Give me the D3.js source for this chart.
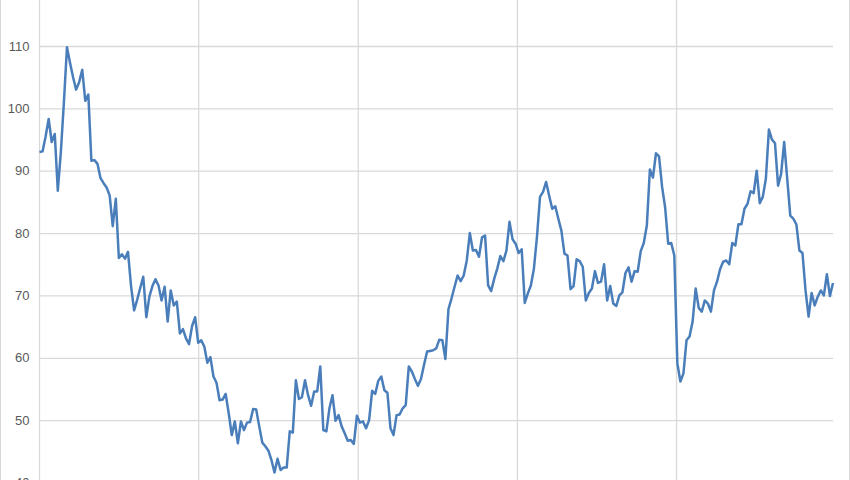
<!DOCTYPE html>
<html lang="en">
	<head>
		<meta charset="utf-8">
		<title>Weekly index</title>
		<script type="text/javascript" src="https://d3js.org/d3.v7.min.js"></script>
		<style type="text/css">
			body { margin: 0; background: #fff; }
			svg { display: block; }
		</style>
	</head>
	<body>
		<script type="text/javascript">

			//Width and height
			var w = 850;
			var h = 480;

			//Weekly observations, first week of January onwards
			var startDate = new Date(2015, 0, 2);
			var values = [
				93.0, 93.1, 95.5, 98.3, 94.6, 95.9, 86.8, 93.0, 101.0, 109.8,
				107.3, 105.0, 103.0, 104.2, 106.2, 101.2, 102.2, 91.6, 91.7, 91.1,
				88.8, 88.0, 87.3, 86.0, 81.1, 85.5, 76.0, 76.6, 75.9, 77.0,
				71.5, 67.6, 69.3, 71.2, 73.0, 66.5, 69.8, 71.5, 72.6, 71.6,
				69.2, 71.4, 65.8, 70.8, 68.4, 69.0, 63.9, 64.6, 63.1, 62.2,
				65.1, 66.5, 62.4, 62.8, 61.8, 59.2, 60.1, 57.0, 56.0, 53.2,
				53.3, 54.2, 51.1, 47.6, 49.8, 46.3, 49.8, 48.4, 49.6, 49.7,
				51.8, 51.7, 49.0, 46.4, 45.8, 45.1, 43.6, 41.6, 43.8, 42.0,
				42.4, 42.4, 48.2, 48.0, 56.4, 53.4, 53.7, 56.4, 54.0, 52.3,
				54.6, 54.6, 58.6, 48.4, 48.2, 51.9, 54.0, 49.9, 50.8, 49.0,
				47.9, 46.7, 46.8, 46.2, 50.7, 49.6, 49.8, 48.7, 50.0, 54.7,
				54.2, 56.3, 57.0, 54.8, 54.4, 48.7, 47.6, 50.8, 50.9, 51.9,
				52.4, 58.6, 57.8, 56.6, 55.5, 56.6, 58.9, 61.0, 61.1, 61.2,
				61.5, 62.9, 62.8, 59.8, 67.8, 69.5, 71.4, 73.2, 72.3, 73.2,
				75.6, 80.0, 77.2, 77.3, 76.2, 79.3, 79.6, 71.6, 70.7, 72.7,
				74.3, 76.3, 75.5, 77.2, 81.8, 79.0, 78.3, 76.8, 77.4, 68.8,
				70.3, 71.6, 74.3, 79.4, 85.8, 86.6, 88.2, 86.0, 83.9, 84.3,
				82.3, 80.4, 76.7, 76.4, 71.0, 71.5, 75.8, 75.5, 74.6, 69.2,
				70.4, 71.1, 73.9, 72.0, 72.2, 75.0, 69.2, 71.5, 68.7, 68.3,
				70.0, 70.5, 73.6, 74.5, 72.2, 73.9, 73.8, 77.1, 78.4, 81.2,
				90.2, 88.9, 92.8, 92.3, 87.4, 84.1, 78.3, 78.4, 76.4, 59.1,
				56.2, 57.5, 62.8, 63.4, 65.8, 71.1, 68.0, 67.4, 69.2, 68.7,
				67.4, 70.8, 72.2, 74.2, 75.4, 75.6, 75.0, 78.4, 78.0, 81.4,
				81.4, 83.9, 84.7, 86.7, 86.4, 90.0, 84.8, 85.8, 88.7, 96.6,
				95.0, 94.4, 87.6, 89.5, 94.6, 88.7, 82.8, 82.3, 81.4, 77.2,
				76.8, 70.8, 66.6, 70.4, 68.4, 69.8, 70.8, 70.0, 73.4, 69.9,
				72.0
			];
			var yTicks = [40, 50, 60, 70, 80, 90, 100, 110];

			var dates = values.map(function(v, i) { return d3.timeWeek.offset(startDate, i); });
			var data = values.map(function(v, i) { return { date: dates[i], value: v }; });

			//Scales
			var x = d3.scaleTime()
					  .domain([dates[0], dates[dates.length - 1]])
					  .range([39.5, 833]);

			var y = d3.scaleLinear()
					  .domain([40, 110])
					  .range([482.5, 46]);

			//Create SVG element
			var svg = d3.select("body")
						.append("svg")
						.attr("width", w)
						.attr("height", h);

			//Chart area border
			svg.append("rect")
				.attr("x", 0.5)
				.attr("y", -20)
				.attr("width", 849)
				.attr("height", h + 40)
				.style("fill", "none")
				.style("stroke", "#d9d9d9")
				.style("stroke-width", 1);

			//Horizontal gridlines
			svg.append("g")
				.attr("transform", "translate(39.5,0)")
				.call(d3.axisLeft(y).tickValues(yTicks).tickSize(-(833 - 39.5)).tickFormat(""))
				.call(function(g) {
					g.select(".domain").remove();
					g.selectAll("line").style("stroke", "#d9d9d9").style("stroke-width", 1.3);
				});

			//Vertical gridlines at year starts
			svg.append("g")
				.attr("transform", "translate(0," + y(40) + ")")
				.call(d3.axisBottom(x).ticks(d3.timeYear.every(1)).tickSize(-(y(40) + 30)).tickFormat(""))
				.call(function(g) {
					g.select(".domain").remove();
					g.selectAll("line").style("stroke", "#d9d9d9").style("stroke-width", 1.3);
				});

			//Left axis line
			svg.append("line")
				.attr("x1", 39.5).attr("x2", 39.5)
				.attr("y1", -20).attr("y2", h + 20)
				.style("stroke", "#d9d9d9")
				.style("stroke-width", 1.3);

			//Y tick labels
			svg.append("g")
				.attr("transform", "translate(39.5,0)")
				.call(d3.axisLeft(y).tickValues(yTicks).tickSize(0).tickPadding(10))
				.call(function(g) {
					g.select(".domain").remove();
					g.selectAll("text")
					 .style("font-family", "'Liberation Sans', Arial, sans-serif")
					 .style("font-size", "13px")
					 .style("fill", "#595959");
				});

			//The series line
			var line = d3.line()
						 .x(function(d) { return x(d.date); })
						 .y(function(d) { return y(d.value); });

			svg.append("path")
				.datum(data)
				.attr("d", line)
				.style("fill", "none")
				.style("stroke", "#4a7ebb")
				.style("stroke-width", 2.5)
				.style("stroke-linejoin", "round");

		</script>
	</body>
</html>
